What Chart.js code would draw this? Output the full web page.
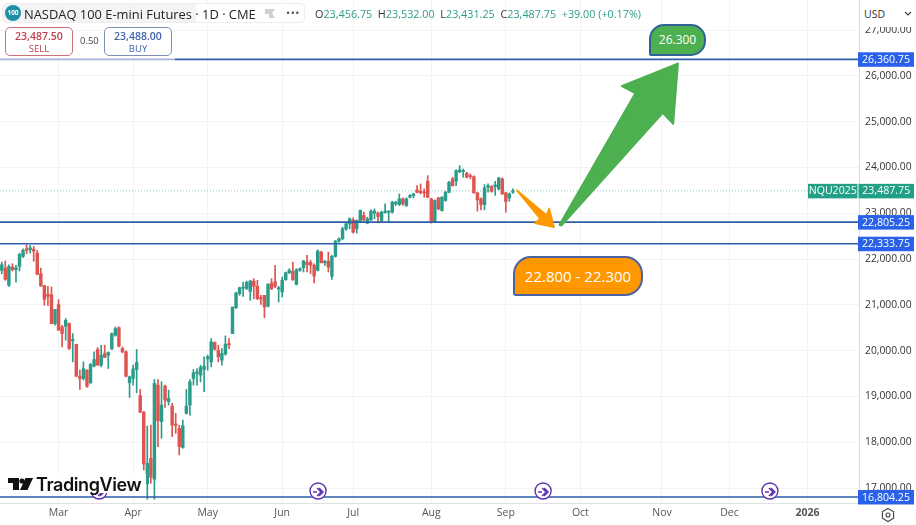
<!DOCTYPE html>
<html><head><meta charset="utf-8">
<style>
html,body{margin:0;padding:0;background:#fff;width:916px;height:525px;overflow:hidden;font-family:"Open Sans",sans-serif}
#wrap{position:relative;width:916px;height:525px}
canvas{position:absolute;left:0;top:0}
.a{position:absolute;white-space:nowrap}
.btn{position:absolute;top:27px;width:68px;height:29px;border-radius:5px;background:#fff;text-align:center;font-size:10.5px;line-height:13px;box-sizing:border-box;padding-top:2px;font-weight:600}
.btn small{display:block;font-size:9.5px;font-weight:400;line-height:12px}
.g{color:#2b9c8a}
</style></head><body>
<div id="wrap">
<canvas id="c" width="916" height="525"></canvas>
<div class="a" style="left:2px;top:3px;width:303px;height:20px;background:#fff;border:1px solid #eee;border-radius:4px;box-sizing:border-box"></div>
<div class="a" style="left:3px;top:4px;width:193px;height:18px;background:#f4f4f4"></div>
<div class="a" style="left:5px;top:5px;width:16px;height:16px;border-radius:50%;background:#1f8fa8;color:#fff;font-size:6.5px;line-height:16px;text-align:center;font-weight:700">100</div>
<div class="a" style="left:24px;top:4px;font-size:12.9px;line-height:20px;color:#222">NASDAQ 100 E-mini Futures · 1D · CME</div>
<svg class="a" style="left:264px;top:8px" width="12" height="11"><path d="M1 1H11L8 5.5L11 10H5V6H1Z" fill="#d0d0d0"/></svg>
<div class="a" style="left:286px;top:5px;font-size:11px;line-height:16px;color:#555;letter-spacing:.5px">•••</div>
<div class="a" style="left:315px;top:6px;font-size:10.8px;line-height:16px;color:#333">O<span class="g">23,456.75</span> &nbsp;H<span class="g">23,532.00</span> &nbsp;L<span class="g">23,431.25</span> &nbsp;C<span class="g">23,487.75</span> &nbsp;<span class="g">+39.00 (+0.17%)</span></div>
<div class="a" style="left:0;top:57px;width:175px;height:4px;background:rgba(255,255,255,.55)"></div>
<div class="btn" style="left:5px;color:#c0404f;border:1px solid #c9707a">23,487.50<small>SELL</small></div>
<div class="a" style="left:80px;top:34px;font-size:9.5px;line-height:14px;color:#444">0.50</div>
<div class="btn" style="left:104px;color:#3e63ab;border:1px solid #7d8fb5">23,488.00<small>BUY</small></div>
<div class="a" style="left:649px;top:24px;width:57px;height:32px;box-sizing:border-box;background:#4caf50;border:2px solid #2f6299;border-radius:15px 15px 15px 2px;color:#fff;font-size:12px;line-height:28px;text-align:center;font-weight:500">26.300</div>
<div class="a" style="left:513px;top:256px;width:130px;height:40px;box-sizing:border-box;background:#ff9800;border:2px solid #4a63a0;border-radius:18px 18px 18px 3px;color:#fff;font-size:15px;line-height:36px;text-align:center;font-weight:500">22.800 - 22.300</div>
<div class="a" style="left:861px;top:0;width:52px;height:27px;background:#fff;font-size:10.5px;line-height:28px;color:#333;padding-left:3px;box-sizing:border-box">USD</div>
<svg class="a" style="left:904px;top:11px" width="8" height="6"><path d="M1 1L4 4L7 1" fill="none" stroke="#444" stroke-width="1.2"/></svg>
<div class="a" style="left:6px;top:474px;width:140px;height:19px;background:#fff"></div>
<svg class="a" style="left:8px;top:477px" width="26" height="15"><path d="M0 1H11V13H5V6H0ZM17.5 1H25L19.5 13H12Z" fill="#111"/><circle cx="14" cy="4" r="2.6" fill="#111"/></svg>
<div class="a" style="left:36px;top:474px;font-size:18px;line-height:22px;font-weight:600;color:#111;letter-spacing:-.4px;font-family:Inter,sans-serif">TradingView</div>
<svg class="a" style="left:880px;top:507px" width="16" height="16"><path d="M8 1.5L13.6 4.7V11.3L8 14.5L2.4 11.3V4.7Z" fill="none" stroke="#444" stroke-width="1.1"/><circle cx="8" cy="8" r="2" fill="none" stroke="#444" stroke-width="1.1"/></svg>
</div>
<script src="https://cdn.jsdelivr.net/npm/chart.js@4/dist/chart.umd.min.js"></script>
<script>
const opens=[21752,21802,21425,21824,21766,21839,22057,22224,22202,22216,
22129,21679,21418,21229,21221,20590,21004,20517,20531,20590,
20212,20139,19442,19391,19573,19297,19660,20023,19682,19936,
19900,20038,20335,20502,20045,19972,19297,19392,19588,19014,
18658,17090,17649,17191,19247,18448,19225,18884,18789,18397,
18303,17888,18629,18811,19392,19501,19465,19588,19820,19755,
20176,20009,19791,19922,20154,20372,20938,21244,21360,21360,
21294,21519,21403,21156,21207,20968,21476,21505,21345,21280,
21548,21701,21730,21447,21752,21810,21933,21926,21861,21752,
22151,21919,21948,21621,22057,22391,22441,22659,22768,22855,
22659,22826,22950,22783,22855,23001,23001,22841,23015,23022,
23022,23204,23189,23313,23168,23349,23386,23509,23480,23465,
23698,23313,22819,23335,23059,23277,23458,23749,23698,23901,
23908,23872,23821,23799,23444,23313,23189,23567,23582,23582,
23531,23749,23444,23335,23456.75];
const highs=[21933,21955,21875,21897,21860,22129,22224,22311,22296,22274,
22187,21802,21425,21403,21388,20902,21112,20553,20699,20604,
20372,20139,19573,19755,19587,19718,19972,20067,20118,20118,
19972,20386,20517,20517,20081,19994,19443,19682,20024,19152,
18673,18353,18375,19370,19370,19319,19247,19138,18847,18629,
18375,18484,19152,19370,19588,19610,19682,19864,19900,20263,
20191,20118,20045,20321,20263,20953,21280,21389,21498,21519,
21534,21570,21534,21207,21207,21461,21570,21861,21403,21607,
21716,21788,21933,21788,21810,21970,22079,21970,21897,22202,
22173,21970,22151,22079,22405,22463,22696,22783,22899,22899,
22855,23073,23022,22913,23073,23095,23022,23044,23204,23059,
23262,23262,23422,23335,23335,23407,23436,23603,23640,23531,
23821,23327,23291,23349,23364,23480,23698,23785,23945,24039,
23966,23894,23858,23814,23458,23335,23625,23640,23603,23698,
23785,23770,23458,23444,23532];
const lows=[21679,21534,21403,21737,21497,21737,22028,22115,22129,21950,
21657,21403,20989,20989,20590,20553,20444,20081,20227,20023,
19755,19428,19152,19355,19195,19282,19645,19682,19645,19849,
19609,20023,20314,20081,19951,19428,18978,19247,19080,18644,
17395,16756,17104,16756,17903,18085,18760,18811,18121,18194,
17722,17867,18615,18593,19247,19247,19319,19101,19573,19646,
20009,19755,19682,19900,20045,20372,20917,21207,21185,21331,
21098,21135,21113,21011,20721,20953,21331,21374,21062,21171,
21534,21679,21534,21432,21730,21716,21716,21679,21476,21737,
21912,21861,21716,21556,22042,22370,22420,22623,22659,22565,
22565,22805,22826,22768,22841,22877,22805,22805,23001,22805,
23001,23168,23168,23168,23146,23335,23335,23444,23422,23349,
23335,22783,22805,23073,23044,23262,23444,23589,23603,23887,
23785,23770,23749,23436,23044,23073,23073,23458,23458,23386,
23509,23407,23022,23262,23431.25];
const closes=[21875,21556,21839,21766,21810,22100,22187,22187,22245,22173,
21664,21410,21120,21185,20590,20902,20444,20372,20662,20045,
20241,19442,19391,19609,19224,19696,19805,19682,19900,19849,
19958,20372,20481,20096,19972,19442,19428,19602,19740,18658,
17525,17540,17235,19283,18470,18811,18920,18956,18375,18368,
17903,18361,18789,19319,19515,19537,19632,19660,19864,20191,
20031,19864,19936,20140,20125,20953,21258,21374,21389,21490,
21519,21403,21135,21127,20953,21447,21352,21403,21374,21534,
21701,21752,21548,21766,21788,21955,21875,21861,21628,22173,
21919,21948,21825,22057,22391,22442,22659,22768,22877,22587,
22841,23059,22855,22877,23044,23044,22928,23022,23044,23044,
23240,23240,23313,23204,23313,23386,23422,23458,23444,23444,
23349,22819,23277,23095,23349,23458,23676,23603,23930,23945,
23930,23785,23799,23444,23291,23189,23553,23603,23480,23618,
23770,23422,23255,23422,23487.75];

const slots=242;
const monthIdx=[16,37,58,79,99,121,142,163,186,205,227];
const monthNames=["Mar","Apr","May","Jun","Jul","Aug","Sep","Oct","Nov","Dec","2026"];
const priceTicks=[17000,18000,19000,20000,21000,22000,23000,24000,25000,26000,27000];
const levels=[26360.75,22805.25,22333.75,16804.25];
const lastPrice=23487.75;
const seriesName="NQU2025";
const eventIdx=[27.4,89.1,152.5,216.4];
const eventPrice=16935;
const greenArrowIdx=[157.05,178.4,174.6,190.57,189.2,186.2,157.7];
const greenArrowVal=[22743,25618,25778,26273,24941,25182,22727];
const orangeArrowIdx=[145.05,153.5,154.2,155.6,150.2,151.6];
const orangeArrowVal=[23503,22961,23107,22693,22780,22885];

const UP="#2b9c8a",DOWN="#dd5450",LEVEL="#2d5ea8",TAG="#2962e8";
const fmt=v=>v.toLocaleString("en-US",{minimumFractionDigits:2,maximumFractionDigits:2});
const colorOf=c=>closes[c.dataIndex]>=opens[c.dataIndex]?UP:DOWN;

const overlay={id:"overlay",
 afterDatasetsDraw(ch){
  const {ctx,scales:{x,y}}=ch;
  const poly=(xs,ys,col)=>{ctx.save();ctx.beginPath();
   xs.forEach((v,i)=>{const px=x.getPixelForValue(v),py=y.getPixelForValue(ys[i]);i?ctx.lineTo(px,py):ctx.moveTo(px,py)});
   ctx.closePath();ctx.fillStyle=col;ctx.strokeStyle=col;ctx.lineWidth=1.5;ctx.lineJoin="round";ctx.fill();ctx.stroke();ctx.restore()};
  poly(orangeArrowIdx,orangeArrowVal,"#ff9800");
  poly(greenArrowIdx,greenArrowVal,"#4caf50");
  eventIdx.forEach(e=>{const px=x.getPixelForValue(e),py=y.getPixelForValue(eventPrice);
   ctx.save();ctx.beginPath();ctx.arc(px,py,8,0,Math.PI*2);ctx.fillStyle="#fff";ctx.fill();ctx.strokeStyle="#5e35b1";ctx.lineWidth=1.4;ctx.stroke();
   ctx.beginPath();ctx.moveTo(px-5,py+1);ctx.lineTo(px-1,py+1);ctx.moveTo(px-1,py-3);ctx.lineTo(px+3,py+1);ctx.lineTo(px-1,py+5);ctx.moveTo(px+1,py-3);ctx.lineTo(px+5,py+1);ctx.lineTo(px+1,py+5);ctx.stroke();ctx.restore()});
 },
 afterDraw(ch){
  const {ctx,scales:{y},chartArea:a}=ch;
  const tag=(l,r,py,col,t)=>{ctx.fillStyle=col;ctx.fillRect(l,py-7,r-l,14.5);ctx.fillStyle="#fff";ctx.font="10.6px 'Open Sans'";ctx.textBaseline="middle";ctx.textAlign="center";ctx.fillText(t,(l+r)/2,py+.5)};
  levels.forEach(v=>tag(a.right-1,914,y.getPixelForValue(v),TAG,fmt(v)));
  const lp=y.getPixelForValue(lastPrice);
  tag(808,857.5,lp,"#22a085",seriesName);
  tag(858.5,914,lp,"#22a085",fmt(lastPrice));
 }};

new Chart(document.getElementById("c"),{
 type:"bar",
 data:{datasets:[
  ...levels.map(v=>({type:"line",data:[{x:-0.5,y:v},{x:slots-.5,y:v}],borderColor:LEVEL,borderWidth:1.7,pointRadius:0,order:0})),
  {type:"line",data:[{x:-0.5,y:lastPrice},{x:slots-.5,y:lastPrice}],borderColor:"#8fc9ba",borderWidth:1,borderDash:[1,2],pointRadius:0,order:3},
  {label:"Wicks",data:opens.map((o,i)=>({x:i,y:[lows[i],highs[i]]})),backgroundColor:colorOf,barThickness:1,grouped:false,order:2},
  {label:"Bodies",data:opens.map((o,i)=>({x:i,y:[Math.min(o,closes[i]),Math.max(o,closes[i])]})),backgroundColor:colorOf,barThickness:2.8,minBarLength:1,grouped:false,order:1}
 ]},
 options:{responsive:false,animation:false,
  layout:{padding:0},
  plugins:{legend:{display:false},tooltip:{enabled:false}},
  scales:{
   x:{type:"linear",min:-0.5,max:slots-.5,offset:false,
    afterBuildTicks:s=>{s.ticks=monthIdx.map(v=>({value:v}))},
    afterFit:s=>{s.height=22;s.paddingLeft=0;s.paddingRight=0},
    grid:{color:"#f1f3f4",offset:false,drawTicks:false},
    border:{color:"#e0e0e0"},
    ticks:{autoSkip:false,maxRotation:0,padding:4,color:"#555",
     font:c=>({family:"'Open Sans'",size:10.5,weight:c.tick&&c.tick.value===227?"700":"400"}),
     callback:v=>monthNames[monthIdx.indexOf(v)]}},
   y:{type:"linear",position:"right",min:16673,max:27655,
    afterBuildTicks:s=>{s.ticks=priceTicks.map(v=>({value:v}))},
    afterFit:s=>{s.width=57;s.paddingTop=0;s.paddingBottom=0},
    grid:{color:"#f1f3f4",drawTicks:false},
    border:{color:"#dcdcdc"},
    ticks:{padding:6,color:"#333",font:{family:"'Open Sans'",size:10.3},callback:v=>fmt(v)}}
  }},
 plugins:[overlay]});
</script>
</body></html>
